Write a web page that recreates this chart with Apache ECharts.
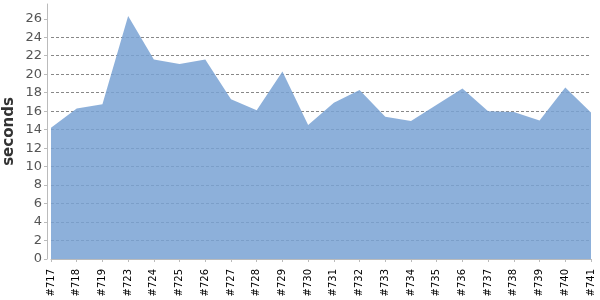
<!DOCTYPE html>
<html><head><meta charset="utf-8">
<script src="https://cdn.jsdelivr.net/npm/echarts@6/dist/echarts.min.js"></script>
<style>html,body{margin:0;padding:0;background:#fff}#c{width:600px;height:300px}</style>
</head><body><div id="c"></div>
<script>
const categories = ['#717','#718','#719','#723','#724','#725','#726','#727','#728','#729','#730','#731','#732','#733','#734','#735','#736','#737','#738','#739','#740','#741'];
const seconds = [14.2,16.3,16.75,26.3,21.6,21.1,21.6,17.3,16.1,20.3,14.5,16.9,18.3,15.4,14.95,16.7,18.45,16.0,15.9,15.0,18.55,15.85];
const yTicks = [0,2,4,6,8,10,12,14,16,18,20,22,24,26];
const yMax = 27.6;

const chart = echarts.init(document.getElementById('c'), null, {renderer:'canvas'});
chart.setOption({
  animation:false,
  grid:{left:51,right:9,top:4,bottom:41,containLabel:false,outerBoundsMode:'none'},
  xAxis:{
    type:'category', data:categories, boundaryGap:false, offset:4,
    axisLine:{lineStyle:{color:'#bbb',width:1}},
    axisTick:{show:true,length:3,lineStyle:{color:'#bbb'},alignWithLabel:true},
    axisLabel:{rotate:90,interval:0,fontSize:10,color:'#000',fontFamily:'DejaVu Sans',margin:6},
    splitLine:{show:false}
  },
  yAxis:{
    type:'value', min:0, max:yMax, interval:2, offset:4,
    name:'seconds', nameLocation:'middle', nameGap:30, nameMoveOverlap:false,
    nameTextStyle:{fontSize:15,fontWeight:'bold',color:'#333',fontFamily:'DejaVu Sans'},
    axisLine:{show:true,lineStyle:{color:'#bbb'}},
    axisTick:{show:true,length:3,lineStyle:{color:'#bbb'},customValues:yTicks},
    axisLabel:{fontSize:13,color:'#555',fontFamily:'DejaVu Sans',margin:5,customValues:yTicks},
    splitLine:{show:true,showMaxLine:false,showMinLine:false,lineStyle:{color:'#888',type:[3,2],width:1}}
  },
  series:[{
    type:'line', data:seconds, symbol:'none', smooth:false,
    lineStyle:{width:0,color:'#79a2d3'},
    areaStyle:{color:'#79a2d3',opacity:0.85}
  }]
});
</script></body></html>
